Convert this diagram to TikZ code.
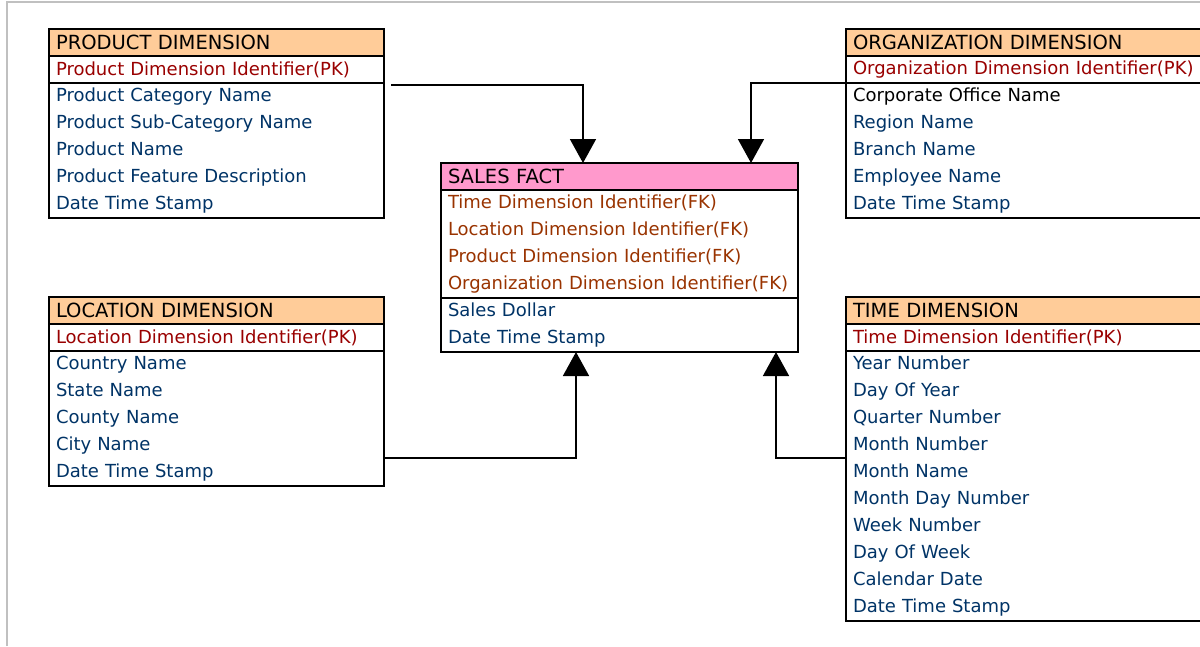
\documentclass[tikz,border=0pt]{standalone}
\usepackage{fontspec}
\setmainfont{DejaVu Sans}
\usetikzlibrary{arrows.meta,positioning}

\definecolor{headorange}{HTML}{FFCC99}
\definecolor{factpink}{HTML}{FF99CC}
\definecolor{pkred}{HTML}{990000}
\definecolor{fkbrown}{HTML}{993300}
\definecolor{attrblue}{HTML}{003366}
\definecolor{framegray}{HTML}{C0C0C0}

\tikzset{
  tbl/.style={draw, line width=1.6pt, anchor=north west, align=left,
    inner xsep=7pt, inner ysep=0pt, outer sep=0pt,
    font=\fontsize{18}{27}\selectfont},
  tblhead/.style={tbl, fill=headorange, minimum height=27pt,
    font=\fontsize{19.5}{27}\selectfont},
  facthead/.style={tblhead, fill=factpink},
  pkrow/.style={tbl, text=pkred, minimum height=27pt},
  fkrows/.style={tbl, text=fkbrown, minimum height=#1*27pt},
  attrs/.style={tbl, text=attrblue, minimum height=#1*27pt},
  link/.style={line width=1.6pt, -{Triangle[width=26pt,length=24pt]}},
}

\begin{document}
\begin{tikzpicture}[x=1pt, y=-1pt]
  \useasboundingbox (0,0) rectangle (1200,646);
  \draw[framegray, line width=2pt] (7,646) -- (7,2) -- (1200,2);

  % product dimension
  \node[tblhead, text width=321pt] (prodH) at (49,29) {PRODUCT DIMENSION};
  \node[pkrow, text width=321pt] (prodPK) at (prodH.south west) {Product Dimension Identifier(PK)};
  \node[attrs=5, text width=321pt] (prodAttr) at (prodPK.south west)
    {Product Category Name\\Product Sub-Category Name\\Product Name\\Product Feature Description\\Date Time Stamp};

  % location dimension
  \node[tblhead, text width=321pt] (locH) at (49,297) {LOCATION DIMENSION};
  \node[pkrow, text width=321pt] (locPK) at (locH.south west) {Location Dimension Identifier(PK)};
  \node[attrs=5, text width=321pt] (locAttr) at (locPK.south west)
    {Country Name\\State Name\\County Name\\City Name\\Date Time Stamp};

  % sales fact
  \node[facthead, text width=343pt] (salesH) at (441,163) {SALES FACT};
  \node[fkrows=4, text width=343pt] (salesFK) at (salesH.south west)
    {Time Dimension Identifier(FK)\\Location Dimension Identifier(FK)\\Product Dimension Identifier(FK)\\Organization Dimension Identifier(FK)};
  \node[attrs=2, text width=343pt] (salesAttr) at (salesFK.south west)
    {Sales Dollar\\Date Time Stamp};

  % organization dimension
  \node[tblhead, text width=350pt] (orgH) at (846,29) {ORGANIZATION DIMENSION};
  \node[pkrow, text width=350pt] (orgPK) at (orgH.south west) {Organization Dimension Identifier(PK)};
  \node[attrs=5, text width=350pt] (orgAttr) at (orgPK.south west)
    {\textcolor{black}{Corporate Office Name}\\Region Name\\Branch Name\\Employee Name\\Date Time Stamp};

  % time dimension
  \node[tblhead, text width=350pt] (timeH) at (846,297) {TIME DIMENSION};
  \node[pkrow, text width=350pt] (timePK) at (timeH.south west) {Time Dimension Identifier(PK)};
  \node[attrs=10, text width=350pt] (timeAttr) at (timePK.south west)
    {Year Number\\Day Of Year\\Quarter Number\\Month Number\\Month Name\\Month Day Number\\Week Number\\Day Of Week\\Calendar Date\\Date Time Stamp};

  % links to the fact table
  \draw[link] ([shift={(7pt,-2pt)}]prodAttr.north east) -| ([xshift=142pt]salesH.north west);
  \draw[link] (orgAttr.north west) -| ([xshift=310pt]salesH.north west);
  \draw[link] ([yshift=28pt]locAttr.south east) -| ([xshift=135pt]salesAttr.south west);
  \draw[link] ([yshift=-107pt]timeAttr.north west) -| ([xshift=335pt]salesAttr.south west);
\end{tikzpicture}
\end{document}
